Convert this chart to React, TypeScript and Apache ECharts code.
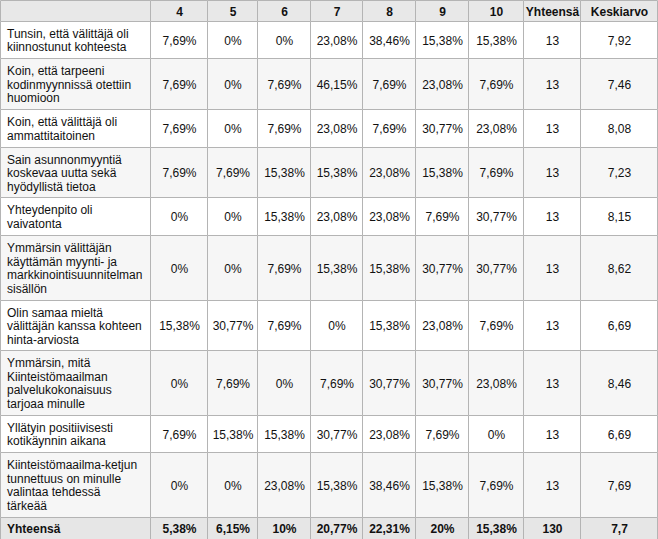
import React, { useEffect, useRef } from "react";
import * as echarts from "echarts";

// ---- data ----
const columns: string[] = ["", "4", "5", "6", "7", "8", "9", "10", "Yhteensä", "Keskiarvo"];

const statements: string[] = [
  "Tunsin, että välittäjä oli\nkiinnostunut kohteesta",
  "Koin, että tarpeeni\nkodinmyynnissä otettiin\nhuomioon",
  "Koin, että välittäjä oli\nammattitaitoinen",
  "Sain asunnonmyyntiä\nkoskevaa uutta sekä\nhyödyllistä tietoa",
  "Yhteydenpito oli\nvaivatonta",
  "Ymmärsin välittäjän\nkäyttämän myynti- ja\nmarkkinointisuunnitelman\nsisällön",
  "Olin samaa mieltä\nvälittäjän kanssa kohteen\nhinta-arviosta",
  "Ymmärsin, mitä\nKiinteistömaailman\npalvelukokonaisuus\ntarjoaa minulle",
  "Yllätyin positiivisesti\nkotikäynnin aikana",
  "Kiinteistömaailma-ketjun\ntunnettuus on minulle\nvalintaa tehdessä\ntärkeää",
];

// percentages for scores 4..10, per statement
const shares: number[][] = [
  [7.69, 0, 0, 23.08, 38.46, 15.38, 15.38],
  [7.69, 0, 7.69, 46.15, 7.69, 23.08, 7.69],
  [7.69, 0, 7.69, 23.08, 7.69, 30.77, 23.08],
  [7.69, 7.69, 15.38, 15.38, 23.08, 15.38, 7.69],
  [0, 0, 15.38, 23.08, 23.08, 7.69, 30.77],
  [0, 0, 7.69, 15.38, 15.38, 30.77, 30.77],
  [15.38, 30.77, 7.69, 0, 15.38, 23.08, 7.69],
  [0, 7.69, 0, 7.69, 30.77, 30.77, 23.08],
  [7.69, 15.38, 15.38, 30.77, 23.08, 7.69, 0],
  [0, 0, 23.08, 15.38, 38.46, 15.38, 7.69],
];
const counts: number[] = [13, 13, 13, 13, 13, 13, 13, 13, 13, 13];
const means: number[] = [7.92, 7.46, 8.08, 7.23, 8.15, 8.62, 6.69, 8.46, 6.69, 7.69];

const totalLabel = "Yhteensä";
const totalShares: number[] = [5.38, 6.15, 10, 20.77, 22.31, 20, 15.38];
const totalCount = 130;
const totalMean = 7.7;

// ---- layout (not data) ----
const colEdges = [0, 150, 207, 257, 310, 362, 415, 468, 523, 580, 657];
const rowEdges = [0, 21, 58, 109, 147, 197, 235, 300, 350, 415, 452, 517, 539];

const fmt = (v: number) => String(v).replace(".", ",");
const pct = (v: number) => fmt(v) + "%";

type Cell = { r: number; c: number; text: string; bold: boolean; left: boolean; kind: string };

function buildCells(): Cell[] {
  const cells: Cell[] = [];
  columns.forEach((h, c) => cells.push({ r: 0, c, text: h, bold: true, left: false, kind: "header" }));
  statements.forEach((s, i) => {
    const r = i + 1;
    const kind = i % 2 === 0 ? "odd" : "even";
    cells.push({ r, c: 0, text: s, bold: false, left: true, kind });
    shares[i].forEach((v, j) => cells.push({ r, c: j + 1, text: pct(v), bold: false, left: false, kind }));
    cells.push({ r, c: 8, text: String(counts[i]), bold: false, left: false, kind });
    cells.push({ r, c: 9, text: fmt(means[i]), bold: false, left: false, kind });
  });
  const tr = statements.length + 1;
  cells.push({ r: tr, c: 0, text: totalLabel, bold: true, left: true, kind: "total" });
  totalShares.forEach((v, j) => cells.push({ r: tr, c: j + 1, text: pct(v), bold: true, left: false, kind: "total" }));
  cells.push({ r: tr, c: 8, text: String(totalCount), bold: true, left: false, kind: "total" });
  cells.push({ r: tr, c: 9, text: fmt(totalMean), bold: true, left: false, kind: "total" });
  return cells;
}

const fills: Record<string, string> = {
  header: "#e8e8e8",
  odd: "#ffffff",
  even: "#f6f6f6",
  total: "#e6e6e6",
};

export default function App() {
  const ref = useRef<HTMLDivElement>(null);
  useEffect(() => {
    if (!ref.current) return;
    const chart = echarts.init(ref.current, null, { renderer: "svg" });
    const cells = buildCells();
    chart.setOption({
      animation: false,
      backgroundColor: "#ffffff",
      series: [
        {
          type: "custom",
          coordinateSystem: "none",
          data: cells.map((c, i) => [c.r, c.c, i]),
          renderItem: (params: any, api: any) => {
            const r = api.value(0);
            const c = api.value(1);
            const cell = cells[api.value(2)];
            const x0 = colEdges[c];
            const x1 = colEdges[c + 1];
            const y0 = rowEdges[r];
            const y1 = rowEdges[r + 1];
            return {
              type: "group",
              children: [
                {
                  type: "rect",
                  shape: { x: x0 + 0.5, y: y0 + 0.5, width: x1 - x0, height: y1 - y0 },
                  style: { fill: fills[cell.kind], stroke: "#b4b4b4", lineWidth: 1 },
                },
                {
                  type: "text",
                  style: {
                    text: cell.text,
                    x: cell.left ? x0 + 7 : (x0 + x1) / 2 + 1,
                    y: (y0 + y1) / 2 + 1,
                    align: cell.left ? "left" : "center",
                    verticalAlign: "middle",
                    font: `${cell.bold ? "bold " : ""}12px "Liberation Sans", Arial, sans-serif`,
                    lineHeight: 13.5,
                    fill: "#111111",
                  },
                },
              ],
            };
          },
        },
      ],
    });
    return () => chart.dispose();
  }, []);
  return (
    <div
      ref={ref}
      style={{ position: "absolute", left: 0, top: 0, width: 658, height: 539 }}
    />
  );
}
